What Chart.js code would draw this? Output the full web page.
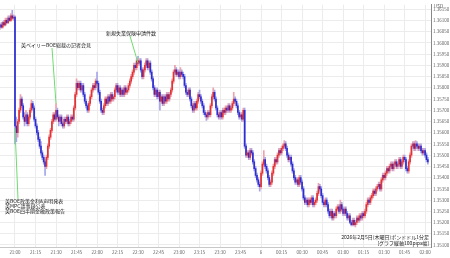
<!DOCTYPE html>
<html><head><meta charset="utf-8">
<script src="https://cdn.jsdelivr.net/npm/chart.js@4"></script>
<style>html,body{margin:0;padding:0;background:#fff;overflow:hidden}</style>
</head><body>
<canvas id="c" width="450" height="258"></canvas>
<script>
// GBP/USD 1-minute candles, 2026-02-05 (JST), first candle 20:49
const firstCandleMinute = -11; // minutes relative to 21:00
const open = [
1.3607,1.3608,1.3607,1.3609,1.3608,1.3610,1.3609,1.3611,1.3610,1.3612,1.3611,
1.36115,
1.3563,1.3560,1.3565,1.3570,1.3575,1.3572,1.3567,1.3565,1.3568,
1.3564,1.3567,1.3570,1.3573,1.3571,1.3566,1.3563,1.3560,1.3557,1.3554,
1.3551,1.3549,1.3547,1.3545,1.3549,1.3554,1.3558,1.3561,1.3565,1.3568,
1.3566,1.3570,1.3567,1.3565,1.3567,1.3564,1.3563,1.3566,1.3565,1.3567,
1.3564,1.3565,1.3567,1.3566,1.3571,1.3577,1.3582,1.3580,1.3582,1.3579,
1.3581,1.3577,1.3574,1.3572,1.3570,1.3573,1.3576,1.3579,1.3581,1.3580,
1.3583,1.3582,1.3578,1.3574,1.3570,1.3569,1.3572,1.3575,1.3573,1.3576,
1.3574,1.3577,1.3575,1.3576,1.3579,1.3581,1.3578,1.3580,1.3577,1.3579,
1.3577,1.3580,1.3578,1.3579,1.3581,1.3583,1.3585,1.3587,1.3590,1.3589,
1.3592,1.3591,1.3592,1.3588,1.3585,1.3588,1.3590,1.3592,1.3589,1.3591,
1.3587,1.3584,1.3580,1.3577,1.3579,1.3576,1.3578,1.3574,1.3576,1.3573,
1.3576,1.3574,1.3577,1.3575,1.3577,1.3579,1.3583,1.3587,1.3588,1.3586,
1.3587,1.3585,1.3587,1.3586,1.3585,1.3581,1.3578,1.3577,1.3579,1.3575,
1.3572,1.3570,1.3573,1.3571,1.3574,1.3577,1.3576,1.3574,1.3572,1.3569,
1.3568,1.3567,1.3569,1.3568,1.3572,1.3576,1.3578,1.3575,1.3571,1.3568,
1.3567,1.3569,1.3567,1.3570,1.3569,1.3571,1.3570,1.3572,1.3570,1.3571,
1.3573,1.3575,1.3574,1.3572,1.3569,1.3567,1.3568,1.3566,1.3570,1.3554,
1.3550,1.3551,1.3549,1.3552,1.3551,1.3547,1.3544,1.3541,1.3539,1.3537,
1.3536,1.3542,1.3546,1.3548,1.3545,1.3543,1.3540,1.3537,1.3538,1.3542,
1.3545,1.3548,1.3547,1.3550,1.3552,1.3551,1.3553,1.3554,1.3555,1.3553,
1.3550,1.3548,1.3549,1.3546,1.3543,1.3540,1.3538,1.3539,1.3537,1.3540,
1.3538,1.3535,1.3531,1.3529,1.3530,1.3528,1.3530,1.3529,1.3531,1.3528,
1.3529,1.3530,1.3533,1.3536,1.3535,1.3532,1.3529,1.3528,1.3530,1.3528,
1.3525,1.3523,1.3525,1.3522,1.3524,1.3523,1.3526,1.3527,1.3525,1.3528,
1.3526,1.3524,1.3526,1.3524,1.3522,1.3523,1.3520,1.3519,1.3521,1.3519,
1.3520,1.3522,1.3521,1.3523,1.3522,1.3524,1.3523,1.3525,1.3528,1.3530,
1.3529,1.3531,1.3532,1.3534,1.3533,1.3535,1.3536,1.3537,1.3535,1.3539,
1.3541,1.3540,1.3542,1.3544,1.3543,1.3545,1.3546,1.3544,1.3546,1.3547,
1.3545,1.3546,1.3548,1.3545,1.3547,1.3549,1.3548,1.3544,1.3543,1.3547,
1.3550,1.3554,1.3555,1.3553,1.3555,1.3554,1.3553,1.3554,1.3552,1.3551,
1.3552,1.3550,1.3548
];
const high = [
1.36085,1.3609,1.36095,1.3610,1.3611,1.3611,1.3612,1.3612,1.3613,1.36145,1.36125,
1.3612,1.3567,1.3566,1.3571,1.3577,1.3576,1.3573,1.3569,1.3570,1.3569,
1.3568,1.3571,1.35745,1.3574,1.3572,1.3567,1.3564,1.3561,1.3558,1.3556,
1.3552,1.3550,1.3548,1.3550,1.3555,1.3559,1.3562,1.3566,1.3569,1.3569,
1.3573,1.3571,1.3568,1.3568,1.3568,1.3565,1.3567,1.3567,1.3568,1.3568,
1.3566,1.3568,1.3568,1.3572,1.3578,1.3584,1.3583,1.3583,1.3583,1.3582,
1.3582,1.3578,1.3575,1.3573,1.3574,1.3577,1.3580,1.3582,1.3582,1.3584,
1.3587,1.3583,1.3579,1.3575,1.3571,1.3573,1.3576,1.3576,1.3577,1.3577,
1.3578,1.3578,1.3577,1.3580,1.3582,1.3582,1.3581,1.3581,1.3580,1.3580,
1.3581,1.3581,1.3580,1.3582,1.3584,1.3586,1.3588,1.3591,1.3591,1.3593,
1.3594,1.3593,1.3593,1.3589,1.3589,1.3591,1.3593,1.3593,1.3592,1.3592,
1.3588,1.3585,1.3581,1.3580,1.3580,1.3579,1.3579,1.3577,1.3577,1.3577,
1.3577,1.3578,1.3578,1.3578,1.3580,1.3584,1.3588,1.3590,1.3589,1.3588,
1.3588,1.3589,1.3588,1.3587,1.3586,1.3582,1.3579,1.3580,1.3580,1.3576,
1.3573,1.3574,1.3574,1.3575,1.3578,1.3579,1.3577,1.3575,1.3573,1.3570,
1.3569,1.3570,1.3570,1.3573,1.3577,1.3580,1.3579,1.3576,1.3572,1.3569,
1.3570,1.3570,1.3571,1.3571,1.3572,1.3572,1.3573,1.3573,1.3572,1.3574,
1.3578,1.3576,1.3575,1.3573,1.3570,1.3569,1.3569,1.3571,1.3571,1.3555,
1.3552,1.3552,1.3553,1.3553,1.3552,1.3548,1.3545,1.3542,1.3540,1.3538,
1.3543,1.3547,1.3552,1.3549,1.3546,1.3544,1.3541,1.3539,1.3543,1.3546,
1.3549,1.3549,1.3551,1.3553,1.3553,1.3554,1.3555,1.35565,1.3556,1.3554,
1.3551,1.3550,1.3550,1.3547,1.3544,1.3541,1.3540,1.3540,1.3541,1.3541,
1.3539,1.3536,1.3532,1.3531,1.3531,1.3531,1.3531,1.3532,1.3532,1.3530,
1.3531,1.3534,1.35375,1.3537,1.3536,1.3533,1.3530,1.3531,1.3531,1.3529,
1.3526,1.3526,1.3526,1.3525,1.3525,1.3527,1.3528,1.3528,1.3530,1.3529,
1.3527,1.3527,1.3527,1.3525,1.3524,1.3524,1.3521,1.3522,1.3522,1.3521,
1.3523,1.3523,1.3524,1.3524,1.3525,1.3525,1.3526,1.3529,1.3531,1.3531,
1.3532,1.3533,1.3535,1.3535,1.3536,1.3537,1.3538,1.3538,1.3540,1.3542,
1.3542,1.3543,1.3545,1.3545,1.3546,1.3547,1.3547,1.3547,1.3548,1.3548,
1.3547,1.3549,1.3549,1.3548,1.3550,1.3550,1.3549,1.3545,1.3548,1.3551,
1.3555,1.3556,1.3556,1.35565,1.3556,1.3555,1.3555,1.3555,1.3553,1.3553,
1.3553,1.3551,1.3549
];
const low = [
1.3606,1.36065,1.36065,1.36075,1.36075,1.36085,1.36085,1.36095,1.36095,1.36105,1.3610,
1.3555,1.3556,1.3558,1.3564,1.3569,1.3571,1.3566,1.3563,1.3564,1.3563,
1.3563,1.3566,1.3569,1.3570,1.3565,1.3562,1.3559,1.3556,1.3553,1.3550,
1.3548,1.3546,1.3541,1.3544,1.3548,1.3553,1.3557,1.3560,1.3564,1.3565,
1.3565,1.3566,1.3563,1.3564,1.3563,1.3562,1.3562,1.3564,1.3564,1.3563,
1.3563,1.3564,1.3565,1.3565,1.3570,1.3576,1.3579,1.3579,1.3578,1.3578,
1.3576,1.3573,1.3571,1.3569,1.3569,1.3572,1.3575,1.3578,1.3579,1.3579,
1.3581,1.3577,1.3573,1.3569,1.3568,1.3568,1.3571,1.3572,1.3572,1.3573,
1.3573,1.3574,1.3574,1.3575,1.3578,1.3577,1.3577,1.3576,1.3576,1.3576,
1.3576,1.3577,1.3577,1.3578,1.3580,1.3582,1.3584,1.3586,1.3588,1.3588,
1.3590,1.3590,1.3587,1.3584,1.3584,1.3587,1.3589,1.3588,1.3588,1.3586,
1.3583,1.3579,1.3576,1.3576,1.3575,1.3575,1.3570,1.3573,1.3572,1.3572,
1.3573,1.3573,1.3574,1.3574,1.3576,1.3578,1.3582,1.3586,1.3585,1.3585,
1.3584,1.3584,1.3585,1.3584,1.3580,1.3577,1.3576,1.3576,1.3574,1.3571,
1.3569,1.3569,1.3570,1.3570,1.3573,1.3575,1.3573,1.3571,1.3568,1.3567,
1.35655,1.3566,1.3567,1.3567,1.3571,1.3575,1.3574,1.3570,1.3567,1.3566,
1.3566,1.3566,1.3566,1.3568,1.3568,1.3569,1.3569,1.3569,1.3569,1.3570,
1.3572,1.3573,1.3571,1.3568,1.3566,1.3566,1.3565,1.3565,1.3553,1.3549,
1.3549,1.3548,1.3548,1.3550,1.3546,1.3543,1.3540,1.3538,1.3536,1.3534,
1.3535,1.3541,1.3545,1.3544,1.3542,1.3539,1.3536,1.3536,1.3537,1.3541,
1.3544,1.3546,1.3546,1.3549,1.3550,1.3550,1.3552,1.3553,1.3552,1.3549,
1.3547,1.3547,1.3545,1.3542,1.3539,1.3537,1.3537,1.3536,1.3536,1.3537,
1.3534,1.3530,1.3528,1.3528,1.3527,1.3527,1.3528,1.3528,1.3527,1.3527,
1.3528,1.3529,1.3532,1.3534,1.3531,1.3528,1.3527,1.3527,1.3527,1.3524,
1.3522,1.3522,1.3521,1.3521,1.3522,1.3522,1.3525,1.3524,1.3524,1.3525,
1.3523,1.3523,1.3523,1.3521,1.3521,1.35195,1.35185,1.35185,1.35185,1.3518,
1.3519,1.3520,1.3520,1.3521,1.3521,1.3522,1.3522,1.3524,1.3527,1.3528,
1.3528,1.3530,1.3531,1.3532,1.3532,1.3534,1.3535,1.3534,1.3534,1.3538,
1.3539,1.3539,1.3541,1.3542,1.3542,1.3544,1.3543,1.3543,1.3545,1.3544,
1.3544,1.3545,1.3544,1.3544,1.3546,1.3547,1.3543,1.3542,1.3542,1.3546,
1.3549,1.3553,1.3552,1.3552,1.3553,1.3552,1.3552,1.3551,1.3550,1.3550,
1.3549,1.3547,1.3546
];
const close = [
1.3608,1.3607,1.3609,1.3608,1.3610,1.3609,1.3611,1.3610,1.3612,1.3611,1.36115,
1.3563,
1.3560,1.3565,1.3570,1.3575,1.3572,1.3567,1.3565,1.3568,1.3564,
1.3567,1.3570,1.3573,1.3571,1.3566,1.3563,1.3560,1.3557,1.3554,1.3551,
1.3549,1.3547,1.3545,1.3549,1.3554,1.3558,1.3561,1.3565,1.3568,1.3566,
1.3570,1.3567,1.3565,1.3567,1.3564,1.3563,1.3566,1.3565,1.3567,1.3564,
1.3565,1.3567,1.3566,1.3571,1.3577,1.3582,1.3580,1.3582,1.3579,1.3581,
1.3577,1.3574,1.3572,1.3570,1.3573,1.3576,1.3579,1.3581,1.3580,1.3583,
1.3582,1.3578,1.3574,1.3570,1.3569,1.3572,1.3575,1.3573,1.3576,1.3574,
1.3577,1.3575,1.3576,1.3579,1.3581,1.3578,1.3580,1.3577,1.3579,1.3577,
1.3580,1.3578,1.3579,1.3581,1.3583,1.3585,1.3587,1.3590,1.3589,1.3592,
1.3591,1.3592,1.3588,1.3585,1.3588,1.3590,1.3592,1.3589,1.3591,1.3587,
1.3584,1.3580,1.3577,1.3579,1.3576,1.3578,1.3574,1.3576,1.3573,1.3576,
1.3574,1.3577,1.3575,1.3577,1.3579,1.3583,1.3587,1.3588,1.3586,1.3587,
1.3585,1.3587,1.3586,1.3585,1.3581,1.3578,1.3577,1.3579,1.3575,1.3572,
1.3570,1.3573,1.3571,1.3574,1.3577,1.3576,1.3574,1.3572,1.3569,1.3568,
1.3567,1.3569,1.3568,1.3572,1.3576,1.3578,1.3575,1.3571,1.3568,1.3567,
1.3569,1.3567,1.3570,1.3569,1.3571,1.3570,1.3572,1.3570,1.3571,1.3573,
1.3575,1.3574,1.3572,1.3569,1.3567,1.3568,1.3566,1.3570,1.3554,1.3550,
1.3551,1.3549,1.3552,1.3551,1.3547,1.3544,1.3541,1.3539,1.3537,1.3536,
1.3542,1.3546,1.3548,1.3545,1.3543,1.3540,1.3537,1.3538,1.3542,1.3545,
1.3548,1.3547,1.3550,1.3552,1.3551,1.3553,1.3554,1.3555,1.3553,1.3550,
1.3548,1.3549,1.3546,1.3543,1.3540,1.3538,1.3539,1.3537,1.3540,1.3538,
1.3535,1.3531,1.3529,1.3530,1.3528,1.3530,1.3529,1.3531,1.3528,1.3529,
1.3530,1.3533,1.3536,1.3535,1.3532,1.3529,1.3528,1.3530,1.3528,1.3525,
1.3523,1.3525,1.3522,1.3524,1.3523,1.3526,1.3527,1.3525,1.3528,1.3526,
1.3524,1.3526,1.3524,1.3522,1.3523,1.3520,1.3519,1.3521,1.3519,1.3520,
1.3522,1.3521,1.3523,1.3522,1.3524,1.3523,1.3525,1.3528,1.3530,1.3529,
1.3531,1.3532,1.3534,1.3533,1.3535,1.3536,1.3537,1.3535,1.3539,1.3541,
1.3540,1.3542,1.3544,1.3543,1.3545,1.3546,1.3544,1.3546,1.3547,1.3545,
1.3546,1.3548,1.3545,1.3547,1.3549,1.3548,1.3544,1.3543,1.3547,1.3550,
1.3554,1.3555,1.3553,1.3555,1.3554,1.3553,1.3554,1.3552,1.3551,1.3552,
1.3550,1.3548,1.3547
];
// time axis: one candle per minute
const minutes = open.map((_, k) => firstCandleMinute + k);

const yTickStep = 0.0005;
const xTickStep = 15;
const notes = [
  {time: 0, price: 1.3562, tx: 5, ty: 201.5, lx: 18, ly: 199,
   lines: ['英BOE政策金利&声明発表', '英MPC議事録公表', '英BOE四半期金融政策報告']},
  {time: 30, price: 1.3573, tx: 21, ty: 45, lx: 52, ly: 48,
   lines: ['英ベイリーBOE総裁の記者会見']},
  {time: 90, price: 1.3591, tx: 106, ty: 33, lx: 130, ly: 36,
   lines: ['新規失業保険申請件数']}
];
const caption = ['2026年2月5日(木曜日)ポンドドル1分足', '[グラフ縦軸100pips幅]'];
const unitLabel = 'USD';

const UP = 'rgb(226,50,50)', DOWN = 'rgb(45,45,210)';
const UPW = 'rgb(240,160,170)', DOWNW = 'rgb(165,165,235)';
const FONT = '"Noto Sans CJK JP", "Noto Sans", sans-serif';

function fmtTime(v) {
  const t = ((21 * 60 + v) % 1440 + 1440) % 1440;
  const h = Math.floor(t / 60), m = t % 60;
  if (h === 0 && m === 0) return '6';
  return String(h).padStart(2, '0') + ':' + String(m).padStart(2, '0');
}

const overlay = {
  id: 'overlay',
  afterDatasetsDraw(chart) {
    const {ctx, scales: {x, y}} = chart;
    ctx.save();
    notes.forEach(n => {
      const px = x.getPixelForValue(n.time), py = y.getPixelForValue(n.price);
      ctx.strokeStyle = 'rgb(110,220,110)';
      ctx.lineWidth = 1;
      ctx.beginPath(); ctx.moveTo(n.lx, n.ly); ctx.lineTo(px, py); ctx.stroke();
    });
    ctx.font = '5px ' + FONT;
    ctx.fillStyle = '#222';
    ctx.textBaseline = 'middle';
    ctx.textAlign = 'left';
    notes.forEach(n => n.lines.forEach((t, k) => ctx.fillText(t, n.tx, n.ty + k * 5)));
    ctx.textAlign = 'right';
    const ca = chart.chartArea;
    ctx.fillText(caption[0], ca.right - 2, ca.bottom - 10);
    ctx.fillText(caption[1], ca.right - 2, ca.bottom - 4);
    ctx.textAlign = 'left';
    ctx.fillStyle = '#555';
    ctx.font = '4.5px ' + FONT;
    ctx.fillText(unitLabel, ca.right + 3, 6);
    ctx.restore();
  }
};

new Chart(document.getElementById('c'), {
  type: 'bar',
  data: {
    datasets: [
      {
        label: 'body',
        data: minutes.map((m, k) => ({x: m, y: [open[k], close[k]]})),
        backgroundColor: close.map((c, k) => c >= open[k] ? UP : DOWN),
        barThickness: 1,
        grouped: false,
        order: 1
      },
      {
        label: 'wick',
        data: minutes.map((m, k) => ({x: m, y: [low[k], high[k]]})),
        backgroundColor: close.map((c, k) => c >= open[k] ? UPW : DOWNW),
        barThickness: 1,
        grouped: false,
        order: 2
      }
    ]
  },
  options: {
    responsive: false,
    animation: false,
    devicePixelRatio: 1,
    layout: {padding: 0},
    plugins: {legend: {display: false}, tooltip: {enabled: false}},
    scales: {
      x: {
        type: 'linear',
        min: -10.97, max: 304.3,
        offset: false,
        grid: {color: '#ececec', drawTicks: false, offset: false},
        border: {color: '#c8c8c8'},
        ticks: {stepSize: xTickStep, includeBounds: false, autoSkip: false, maxRotation: 0,
                padding: 3, color: '#666', font: {size: 4.5, family: FONT}, callback: fmtTime},
        afterFit: s => { s.height = 11; }
      },
      y: {
        position: 'right',
        min: 1.35091, max: 1.3617,
        grid: {color: '#ececec', drawTicks: false},
        border: {color: '#888'},
        ticks: {stepSize: yTickStep, includeBounds: false, padding: 2, color: '#666',
                font: {size: 4.5, family: FONT}, callback: v => v.toFixed(5)},
        afterFit: s => { s.width = 19; }
      }
    }
  },
  plugins: [overlay]
});
</script>
</body></html>
